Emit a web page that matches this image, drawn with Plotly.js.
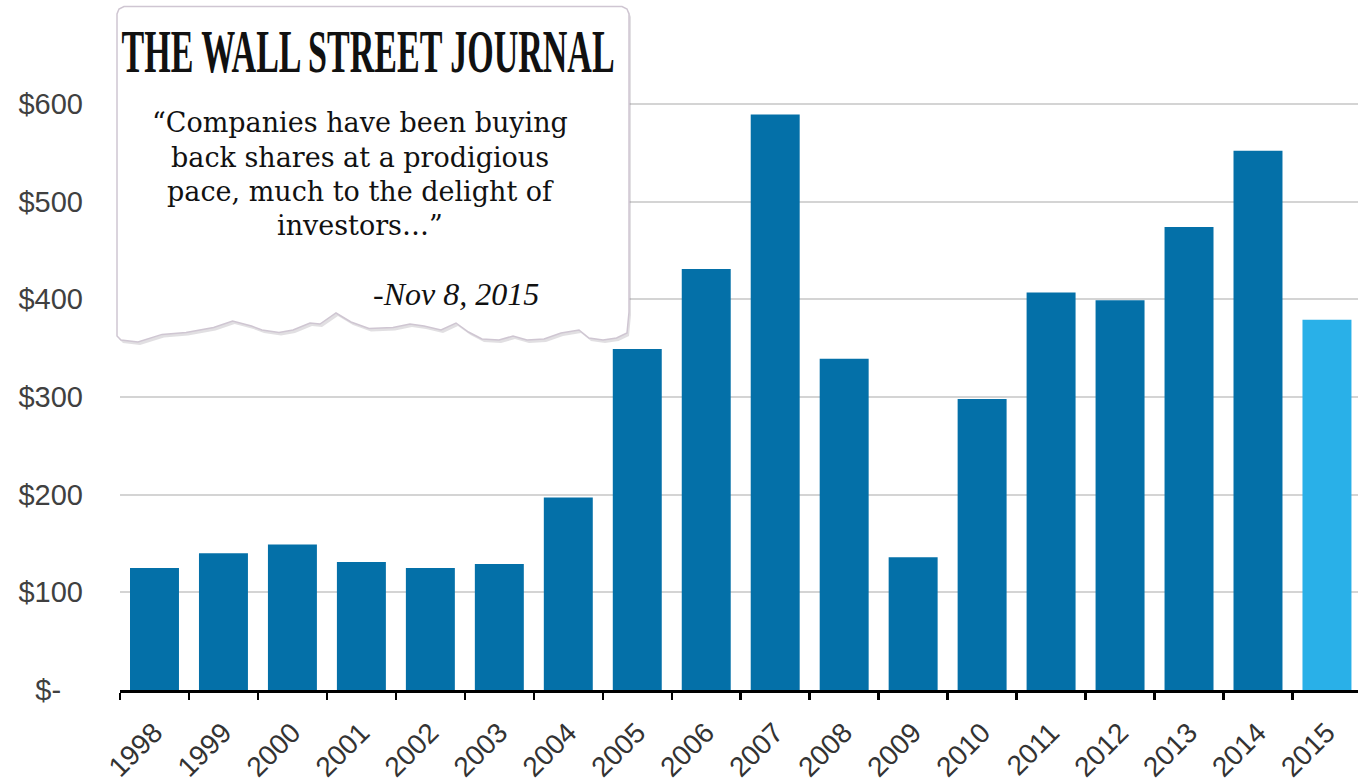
<!DOCTYPE html>
<html>
<head>
<meta charset="utf-8">
<script src="https://cdn.plot.ly/plotly-3.0.1.min.js"></script>
<style>
  html, body { margin: 0; padding: 0; background: #ffffff; }
  #chart { width: 1358px; height: 784px; }
</style>
</head>
<body>
<div id="chart"></div>
<script>
// ---- Data (US share buybacks, $ billions) ----
const years = ['1998','1999','2000','2001','2002','2003','2004','2005','2006',
               '2007','2008','2009','2010','2011','2012','2013','2014','2015'];
const buybacks = [125, 140, 149, 131, 125, 129, 197, 349, 431,
                  589, 339, 136, 298, 407, 399, 474, 552, 379];
const highlightYear = '2015';

const yTickVals = [0, 100, 200, 300, 400, 500, 600];
const yTickText = ['$-\u00a0\u00a0\u2009', '$100', '$200', '$300', '$400', '$500', '$600'];

const mastheadText = 'THE WALL STREET JOURNAL';
const quoteLines = [
  '\u201CCompanies have been buying',
  'back shares at a prodigious',
  'pace, much to the delight of',
  'investors\u2026\u201D'
];
const quoteDate = '-Nov 8, 2015';

// ---- Styling ----
const DARK = '#0470A8';
const LIGHT = '#29B0E8';
const W = 1358, H = 784;
const M = { l: 120, r: 0, t: 55, b: 94 };
const PW = W - M.l - M.r, PH = H - M.t - M.b;
const px2x = p => (p - M.l) / PW;
const py2y = p => (H - M.b - p) / PH;

// callout box outline (pixel positions on the page, decoration only)
const boxPts = [
  [117,336],[117,14],[119,9],[124,6.5],[622,6.5],[627,9],[629,14],[629,312],
  [627,333],[616.5,338],[603,340],[589,338],[579,330],[561,333],[544,339],
  [527,340],[513,336],[499,340],[482,339],[468.5,332],[456,323],[441,330],
  [424,326],[410,324],[393,327.5],[369,328.5],[351,322],[336,313],[320,324],
  [310,323],[293,330],[279,332.6],[262,330],[251.5,326],[232.6,321],
  [213.6,327.5],[186,332.6],[162,334.4],[138,342],[121,340]
];
function pathFrom(pts, dx, dy) {
  return pts.map((p, i) => (i ? 'L' : 'M') + px2x(p[0] + dx).toFixed(5) + ',' + py2y(p[1] + dy).toFixed(5)).join(' ') + ' Z';
}

const barColors = years.map(y => y === highlightYear ? LIGHT : DARK);

const trace = {
  type: 'bar',
  x: years,
  y: buybacks,
  marker: { color: barColors, line: { width: 0 } },
  hoverinfo: 'x+y'
};

const serif = 'Liberation Serif, Times New Roman, serif';
const quoteSerif = 'DejaVu Serif, Georgia, serif';
const sans = 'Liberation Sans, Arial, sans-serif';

const annotations = [
  {
    text: mastheadText, xref: 'paper', yref: 'paper',
    x: px2x(368), y: py2y(51), xanchor: 'center', yanchor: 'middle',
    showarrow: false,
    font: { family: serif, size: 61, color: '#111111', weight: 700 }
  }
];
const lineBaselines = [131.7, 166, 200.3, 234.8];
quoteLines.forEach((t, i) => {
  annotations.push({
    text: t, xref: 'paper', yref: 'paper',
    x: px2x(360), y: py2y(lineBaselines[i] - 9), xanchor: 'center', yanchor: 'middle',
    showarrow: false, borderpad: 0,
    font: { family: quoteSerif, size: 27, color: '#111111' }
  });
});
annotations.push({
  text: '<i>' + quoteDate + '</i>', xref: 'paper', yref: 'paper',
  x: px2x(456), y: py2y(294), xanchor: 'center', yanchor: 'middle',
  showarrow: false,
  font: { family: serif, size: 32, color: '#111111' }
});

const layout = {
  width: W, height: H,
  margin: M,
  paper_bgcolor: '#ffffff',
  plot_bgcolor: '#ffffff',
  showlegend: false,
  bargap: 0.29,
  xaxis: {
    type: 'category',
    range: [-0.5, 17.45],
    tickson: 'boundaries',
    ticks: 'outside', ticklen: 7, tickwidth: 2.5, tickcolor: '#000000',
    showline: true, linecolor: '#000000', linewidth: 3,
    showgrid: false, zeroline: false,
    tickangle: -45,
    ticklabelstandoff: 12,
    tickfont: { family: sans, size: 28, color: '#333333' },
    fixedrange: true
  },
  yaxis: {
    range: [0, 650],
    tickmode: 'array', tickvals: yTickVals, ticktext: yTickText,
    showgrid: true, gridcolor: '#d4d4d4', gridwidth: 2,
    zeroline: false, showline: false, ticks: '',
    ticklabelstandoff: 36,
    tickfont: { family: sans, size: 29, color: '#404040' },
    fixedrange: true
  },
  shapes: [
    { type: 'path', xref: 'paper', yref: 'paper', layer: 'above',
      path: pathFrom(boxPts, 2, 3), fillcolor: 'rgba(120,110,125,0.22)', line: { width: 0 } },
    { type: 'path', xref: 'paper', yref: 'paper', layer: 'above',
      path: pathFrom(boxPts, 0, 0), fillcolor: '#ffffff', line: { color: '#cfc6d2', width: 1.5 } }
  ],
  annotations: annotations
};

Plotly.newPlot('chart', [trace], layout, { displayModeBar: false, staticPlot: true }).then(gd => {
  gd.querySelectorAll('.annotation-text').forEach(t => {
    if (t.textContent === mastheadText) {
      t.setAttribute('textLength', '493');
      t.setAttribute('lengthAdjust', 'spacingAndGlyphs');
    }
  });
});
</script>
</body>
</html>
